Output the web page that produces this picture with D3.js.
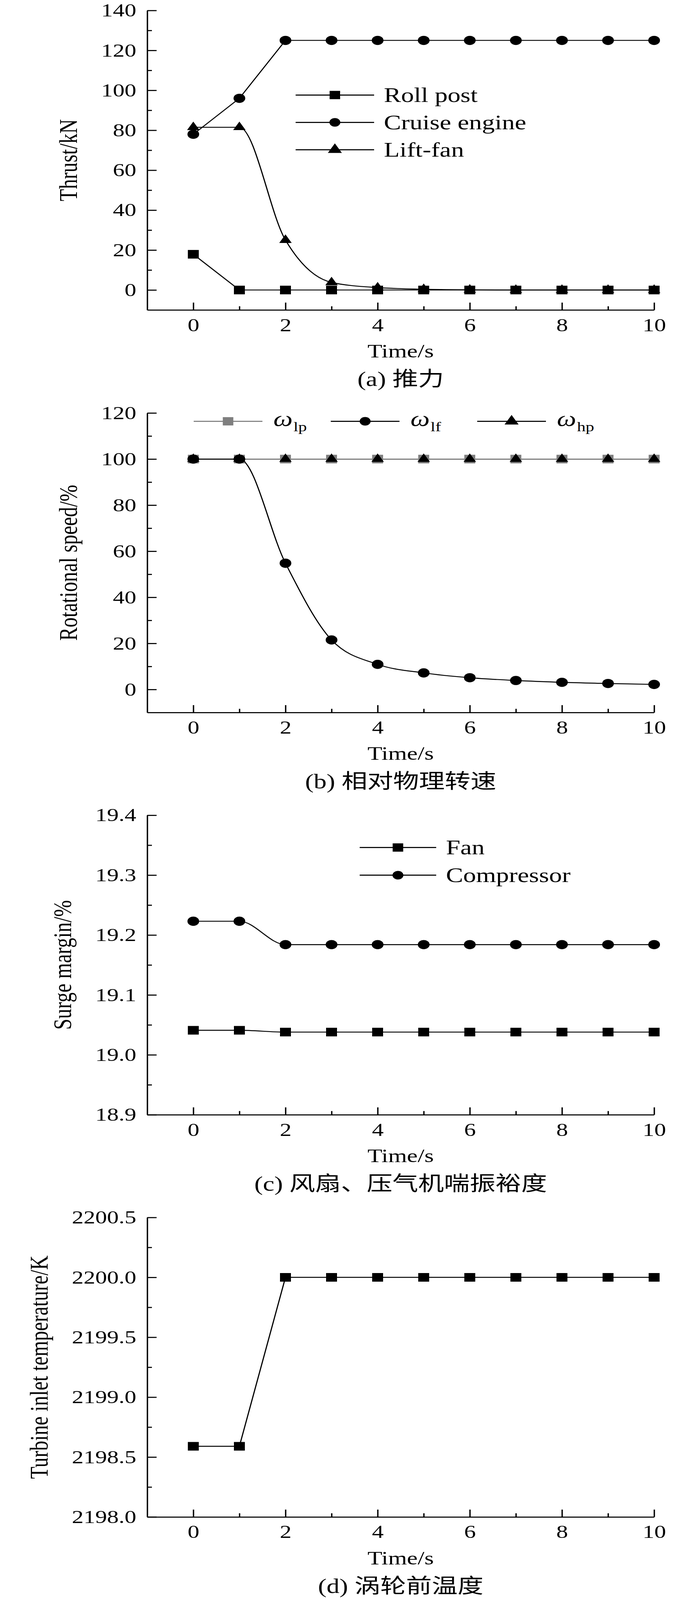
<!DOCTYPE html>
<html>
<head>
<meta charset="utf-8">
<script src="https://cdn.jsdelivr.net/npm/d3@7"></script>
<style>
    html, body { margin: 0; padding: 0; background: #fff; overflow: hidden; }
    svg { display: block; }
    svg text { font-family: "Liberation Serif", "Times New Roman", "Noto Sans CJK SC", serif; fill: #000; }
</style>
</head>
<body>
<svg id="fig"></svg>
<script>
// shared time axis
const time = [0, 1, 2, 3, 4, 5, 6, 7, 8, 9, 10];
const timeTicks = [0, 2, 4, 6, 8, 10];
const timeMinor = [1, 3, 5, 7, 9];

// (a) thrust, kN
const rollPost = [17.9, 0, 0, 0, 0, 0, 0, 0, 0, 0, 0];
const cruiseEngine = [78.0, 96.0, 125, 125, 125, 125, 125, 125, 125, 125, 125];
const liftFan = [81.5, 81.5, 25.0, 3.8, 1.2, 0.4, 0.1, 0, 0, 0, 0];
const thrustTicks = [0, 20, 40, 60, 80, 100, 120, 140];
const thrustMinor = [10, 30, 50, 70, 90, 110, 130];

// (b) relative rotational speed, %
const wLp = [100, 100, 100, 100, 100, 100, 100, 100, 100, 100, 100];
const wLf = [100, 100, 54.8, 21.5, 10.9, 7.2, 5.1, 3.9, 3.1, 2.6, 2.2];
const wHp = [100, 100, 100, 100, 100, 100, 100, 100, 100, 100, 100];
const speedTicks = [0, 20, 40, 60, 80, 100, 120];
const speedMinor = [10, 30, 50, 70, 90, 110];

// (c) surge margin, %
const fanSM = [19.041, 19.041, 19.038, 19.038, 19.038, 19.038, 19.038, 19.038, 19.038, 19.038, 19.038];
const compressorSM = [19.223, 19.223, 19.184, 19.184, 19.184, 19.184, 19.184, 19.184, 19.184, 19.184, 19.184];
const smTicks = [18.9, 19.0, 19.1, 19.2, 19.3, 19.4];
const smMinor = [18.95, 19.05, 19.15, 19.25, 19.35];

// (d) turbine inlet temperature, K
const tit = [2198.59, 2198.59, 2200.0, 2200.0, 2200.0, 2200.0, 2200.0, 2200.0, 2200.0, 2200.0, 2200.0];
const titTicks = [2198.0, 2198.5, 2199.0, 2199.5, 2200.0, 2200.5];
const titMinor = [2198.25, 2198.75, 2199.25, 2199.75, 2200.25];

const GRAY = "#7f7f7f";
const W = 1772, H = 5203;

const symbolType = {square: d3.symbolSquare, circle: d3.symbolCircle, triangle: d3.symbolTriangle};
// symbol area from its visible width
function symbolArea(kind, w) {
    if (kind === "square") return w * w;
    if (kind === "circle") return Math.PI * w * w / 4;
    return Math.sqrt(3) * w * w / 4;
}
const markerWidth = {square: 28, circle: 30, triangle: 32};
const legendMarkerWidth = {square: 27, circle: 28, triangle: 36};

class panelVis {

    constructor(svg, cfg) {
        this.svg = svg;
        this.cfg = cfg;
        this.initVis();
    }

    initVis() {
        let vis = this;
        let cfg = vis.cfg;

        vis.left = 377;
        vis.right = 1675;
        vis.height = 974;
        vis.bottom = cfg.top + vis.height;

        vis.g = vis.svg.append("g");

        vis.x = d3.scaleLinear().domain([-1, 10]).range([vis.left, vis.right]);
        vis.y = d3.scaleLinear().domain(cfg.yDomain).range([vis.bottom, cfg.top]);

        // x axis, ticks pointing inward
        vis.g.append("g")
            .attr("transform", `translate(0, ${vis.bottom})`)
            .call(d3.axisBottom(vis.x).tickValues(timeTicks).tickSize(-24).tickSizeOuter(0).tickPadding(26));
        vis.g.append("g")
            .attr("transform", `translate(0, ${vis.bottom})`)
            .call(d3.axisBottom(vis.x).tickValues(timeMinor).tickSize(-12).tickSizeOuter(0).tickFormat(""))
            .select(".domain").remove();

        // y axis
        let yg = vis.g.append("g")
            .attr("transform", `translate(${vis.left}, 0)`)
            .call(d3.axisLeft(vis.y).tickValues(cfg.yTicks).tickSize(-24).tickSizeOuter(0).tickPadding(28).tickFormat(cfg.yFormat));
        vis.g.append("g")
            .attr("transform", `translate(${vis.left}, 0)`)
            .call(d3.axisLeft(vis.y).tickValues(cfg.yMinor).tickSize(-12).tickSizeOuter(0).tickFormat(""))
            .select(".domain").remove();

        vis.g.selectAll(".domain, .tick line")
            .attr("stroke", "#000")
            .attr("stroke-width", 3.5);
        vis.g.selectAll(".tick text")
            .style("font-size", "60px");

        // widest y tick label decides where the axis title goes
        let widest = 0;
        yg.selectAll(".tick text").each(function () {
            widest = Math.max(widest, this.getComputedTextLength());
        });
        let titleX = vis.left - 28 - widest - 62;
        vis.g.append("text")
            .attr("transform", `translate(${titleX}, ${(cfg.top + vis.bottom) / 2}) rotate(-90)`)
            .attr("text-anchor", "middle")
            .style("font-size", "65px")
            .text(cfg.yTitle);

        vis.g.append("text")
            .attr("x", (vis.left + vis.right) / 2)
            .attr("y", vis.bottom + 154)
            .attr("text-anchor", "middle")
            .style("font-size", "62px")
            .text("Time/s");

        vis.g.append("text")
            .attr("x", (vis.left + vis.right) / 2)
            .attr("y", vis.bottom + 247)
            .attr("text-anchor", "middle")
            .style("font-size", "66px")
            .text(cfg.caption);

        vis.drawSeries();
        if (cfg.legend) vis.drawLegend();
    }

    drawSeries() {
        let vis = this;

        // lines first (in their own stacking order), markers on top
        let byLine = vis.cfg.series.slice().sort((a, b) => a.z - b.z);
        byLine.forEach(s => {
            let line = d3.line()
                .x((d, i) => vis.x(time[i]))
                .y(d => vis.y(d))
                .curve(s.curve);
            vis.g.append("path")
                .datum(s.values)
                .attr("fill", "none")
                .attr("stroke", s.color)
                .attr("stroke-width", 3)
                .attr("stroke-linejoin", "round")
                .attr("d", line);
        });

        vis.cfg.series.forEach(s => {
            let sym = d3.symbol().type(symbolType[s.symbol]).size(symbolArea(s.symbol, markerWidth[s.symbol]));
            vis.g.selectAll(null)
                .data(s.values)
                .enter().append("path")
                .attr("transform", (d, i) => `translate(${vis.x(time[i])}, ${vis.y(d)})`)
                .attr("d", sym)
                .attr("fill", s.color);
        });
    }

    drawLegend() {
        let vis = this;
        let lg = vis.cfg.legend;

        vis.cfg.series.forEach((s, i) => {
            let x0, y;
            if (lg.row) {
                x0 = lg.x0[i];
                y = vis.cfg.top + lg.dy;
            } else {
                x0 = lg.x0;
                y = vis.cfg.top + lg.dy + i * lg.step;
            }
            let x1 = x0 + lg.len;
            vis.g.append("line")
                .attr("x1", x0).attr("x2", x1)
                .attr("y1", y).attr("y2", y)
                .attr("stroke", s.color)
                .attr("stroke-width", 3.5);
            vis.g.append("path")
                .attr("transform", `translate(${(x0 + x1) / 2}, ${y})`)
                .attr("d", d3.symbol().type(symbolType[s.symbol]).size(symbolArea(s.symbol, legendMarkerWidth[s.symbol])))
                .attr("fill", s.color);

            let t = vis.g.append("text")
                .attr("x", x1 + lg.gap);
            if (s.sub) {
                // omega with a roman subscript
                t.attr("y", y + 15);
                t.append("tspan").style("font-size", "70px").style("font-style", "italic").text(s.name);
                t.append("tspan").attr("dy", 18).attr("dx", 2).style("font-size", "44px").text(s.sub);
            } else {
                t.attr("y", y + 22).style("font-size", "66px").text(s.name);
            }
        });
    }
}

// figure is laid out on a 1772x5203 canvas and stretched to whatever the window gives
const svg = d3.select("#fig")
    .attr("viewBox", `0 0 ${W} ${H}`)
    .attr("preserveAspectRatio", "none")
    .attr("width", window.innerWidth || W)
    .attr("height", window.innerHeight || H);

svg.append("rect").attr("width", W).attr("height", H).attr("fill", "#fff");

new panelVis(svg, {
    top: 34, yDomain: [-10, 140], yTicks: thrustTicks, yMinor: thrustMinor,
    yFormat: d3.format("d"), yTitle: "Thrust/kN", caption: "(a) 推力",
    series: [
        {name: "Roll post", values: rollPost, symbol: "square", color: "#000", curve: d3.curveLinear, z: 0},
        {name: "Cruise engine", values: cruiseEngine, symbol: "circle", color: "#000", curve: d3.curveLinear, z: 1},
        {name: "Lift-fan", values: liftFan, symbol: "triangle", color: "#000", curve: d3.curveMonotoneX, z: 2}
    ],
    legend: {x0: 757, len: 201, gap: 25, dy: 275, step: 89}
});

new panelVis(svg, {
    top: 1343, yDomain: [-10, 120], yTicks: speedTicks, yMinor: speedMinor,
    yFormat: d3.format("d"), yTitle: "Rotational speed/%", caption: "(b) 相对物理转速",
    series: [
        {name: "ω", sub: "lp", values: wLp, symbol: "square", color: GRAY, curve: d3.curveLinear, z: 1},
        {name: "ω", sub: "lf", values: wLf, symbol: "circle", color: "#000", curve: d3.curveMonotoneX, z: 2},
        {name: "ω", sub: "hp", values: wHp, symbol: "triangle", color: "#000", curve: d3.curveLinear, z: 0}
    ],
    legend: {row: true, x0: [496, 847, 1222], len: 176, gap: 28, dy: 27}
});

new panelVis(svg, {
    top: 2651, yDomain: [18.9, 19.4], yTicks: smTicks, yMinor: smMinor,
    yFormat: d3.format(".1f"), yTitle: "Surge margin/%", caption: "(c) 风扇、压气机喘振裕度",
    series: [
        {name: "Fan", values: fanSM, symbol: "square", color: "#000", curve: d3.curveMonotoneX, z: 0},
        {name: "Compressor", values: compressorSM, symbol: "circle", color: "#000", curve: d3.curveMonotoneX, z: 1}
    ],
    legend: {x0: 921, len: 196, gap: 25, dy: 105, step: 90}
});

// panel (d) has a single series and no legend
new panelVis(svg, {
    top: 3959, yDomain: [2198.0, 2200.5], yTicks: titTicks, yMinor: titMinor,
    yFormat: d3.format(".1f"), yTitle: "Turbine inlet temperature/K", caption: "(d) 涡轮前温度",
    series: [
        {name: "TIT", values: tit, symbol: "square", color: "#000", curve: d3.curveLinear, z: 0}
    ],
    legend: null
});
</script>
</body>
</html>
